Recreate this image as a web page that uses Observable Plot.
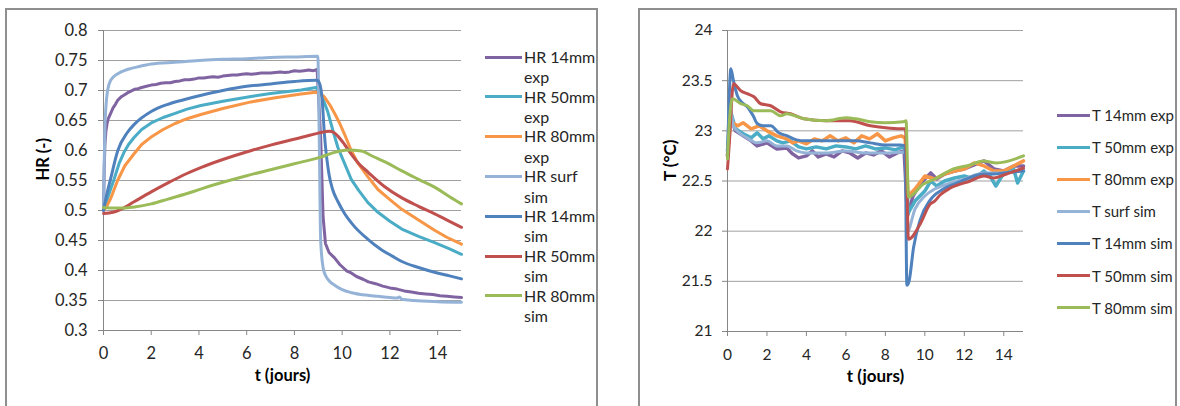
<!DOCTYPE html>
<html><head><meta charset="utf-8">
<script src="https://cdn.jsdelivr.net/npm/d3@7"></script>
<script src="https://cdn.jsdelivr.net/npm/@observablehq/plot@0.6"></script>
<style>
html,body{margin:0;padding:0;background:#fff;}
body{width:1180px;height:406px;position:relative;overflow:hidden;font-family:Lato,sans-serif;color:#262626;}
.panel{position:absolute;border:2px solid #8f8f8f;box-sizing:border-box;}
#hrPanel{left:5px;top:8px;width:593px;height:420px;}
#tPanel{left:638px;top:8px;width:539px;height:420px;}
.plot{position:absolute;top:0;}
#hrPlot{left:0;}
#tPlot{left:630px;}
.legend{position:absolute;}
.item{position:absolute;left:0;display:flex;align-items:flex-start;white-space:normal;}
.sw{flex:none;height:3px;}
</style></head><body>
<div class="panel" id="hrPanel"></div>
<div class="panel" id="tPanel"></div>
<div class="plot" id="hrPlot"></div>
<div class="plot" id="tPlot"></div>
<div class="legend" id="hrLegend"></div>
<div class="legend" id="tLegend"></div>
<script>
// ---------- data ----------
const xTicks = [0, 2, 4, 6, 8, 10, 12, 14];
const hrTicks = [0.3, 0.35, 0.4, 0.45, 0.5, 0.55, 0.6, 0.65, 0.7, 0.75, 0.8];
const tTicks = [21, 21.5, 22, 22.5, 23, 23.5, 24];
const hrNames = ["HR 14mm exp", "HR 50mm exp", "HR 80mm exp", "HR surf sim", "HR 14mm sim", "HR 50mm sim", "HR 80mm sim"];
const tNames = ["T 14mm exp", "T 50mm exp", "T 80mm exp", "T surf sim", "T 14mm sim", "T 50mm sim", "T 80mm sim"];
const seriesColors = ["#8064A2", "#4BACC6", "#F79646", "#95B3D7", "#4F81BD", "#C0504D", "#9BBB59"];

// HR (-) vs t (jours): [t, value]
const hr14exp = [[0,0.5],[0.03,0.57],[0.06,0.61],[0.1,0.632],[0.15,0.645],[0.2,0.653],[0.3,0.662],[0.4,0.671],[0.5,0.677],[0.6,0.684],[0.73,0.689],[0.85,0.692],[1,0.696],[1.15,0.699],[1.3,0.702],[1.45,0.703],[1.6,0.705],[1.8,0.707],[2,0.709],[2.2,0.71],[2.4,0.712],[2.6,0.713],[2.8,0.713],[3,0.715],[3.2,0.716],[3.4,0.718],[3.6,0.718],[3.8,0.719],[4,0.721],[4.2,0.721],[4.4,0.722],[4.6,0.723],[4.8,0.722],[5,0.724],[5.2,0.725],[5.4,0.726],[5.6,0.726],[5.8,0.727],[6,0.728],[6.2,0.727],[6.4,0.728],[6.6,0.729],[6.8,0.729],[7,0.729],[7.2,0.73],[7.4,0.731],[7.6,0.73],[7.8,0.731],[8,0.733],[8.2,0.732],[8.4,0.733],[8.6,0.734],[8.8,0.733],[8.95,0.735],[9.1,0.62],[9.2,0.49],[9.3,0.445],[9.45,0.43],[9.68,0.421],[9.9,0.41],[10.2,0.399],[10.38,0.396],[10.6,0.39],[10.9,0.385],[11.1,0.381],[11.4,0.378],[11.7,0.374],[12,0.371],[12.3,0.369],[12.6,0.366],[12.9,0.364],[13.2,0.362],[13.5,0.361],[13.8,0.36],[14.1,0.358],[14.4,0.357],[14.7,0.356],[15,0.355]];
const hr50exp = [[0,0.5],[0.1,0.51],[0.2,0.524],[0.45,0.553],[0.65,0.578],[0.86,0.597],[1.05,0.61],[1.29,0.622],[1.6,0.635],[2,0.646],[2.5,0.655],[3,0.662],[3.5,0.669],[4.08,0.675],[5,0.682],[6.18,0.69],[7,0.695],[8.28,0.701],[8.9,0.705],[9.12,0.694],[9.4,0.664],[9.6,0.635],[9.82,0.605],[10.05,0.583],[10.38,0.552],[10.7,0.533],[11.08,0.513],[11.5,0.497],[12,0.482],[12.5,0.469],[13.2,0.457],[13.9,0.446],[14.5,0.436],[15,0.427]];
const hr80exp = [[0,0.5],[0.15,0.508],[0.3,0.52],[0.59,0.55],[0.9,0.575],[1.29,0.595],[1.6,0.61],[1.98,0.622],[2.5,0.635],[3,0.645],[3.5,0.653],[4.08,0.66],[5,0.67],[6.18,0.681],[7.2,0.688],[8.28,0.694],[8.9,0.697],[9.1,0.695],[9.26,0.689],[9.5,0.675],[9.68,0.662],[9.9,0.645],[10.1,0.627],[10.38,0.6],[10.66,0.579],[11.08,0.556],[11.5,0.535],[12,0.518],[12.5,0.502],[13.2,0.484],[13.87,0.467],[14.4,0.455],[15,0.444]];
const hrSurfSim = [[0,0.5],[0.03,0.58],[0.06,0.64],[0.1,0.672],[0.17,0.7],[0.3,0.717],[0.6,0.728],[1,0.735],[1.5,0.74],[2,0.744],[3,0.747],[4,0.75],[5,0.752],[6,0.753],[7,0.755],[8,0.756],[8.98,0.757],[9.04,0.62],[9.1,0.45],[9.2,0.405],[9.3,0.392],[9.45,0.383],[9.7,0.375],[10,0.368],[10.4,0.363],[11,0.359],[11.5,0.357],[12,0.355],[12.3,0.354],[12.4,0.356],[12.5,0.352],[13,0.35],[14,0.348],[15,0.347]];
const hr14sim = [[0,0.5],[0.1,0.52],[0.3,0.553],[0.6,0.6],[1,0.63],[1.3,0.644],[2,0.665],[2.7,0.677],[3.4,0.685],[4.1,0.692],[5,0.7],[6,0.707],[7,0.711],[8,0.715],[8.95,0.717],[9.05,0.712],[9.15,0.69],[9.26,0.625],[9.45,0.56],[9.6,0.535],[9.82,0.515],[10.1,0.495],[10.5,0.474],[11.08,0.452],[11.6,0.436],[12.1,0.424],[12.5,0.415],[13.2,0.405],[13.87,0.397],[14.5,0.391],[15,0.386]];
const hr50sim = [[0,0.495],[0.4,0.497],[0.73,0.502],[1.3,0.515],[2,0.531],[2.7,0.546],[3.4,0.56],[4.1,0.572],[5,0.585],[6.2,0.6],[7,0.609],[8.4,0.623],[9,0.629],[9.47,0.632],[9.65,0.63],[9.82,0.624],[10.1,0.61],[10.38,0.594],[10.7,0.578],[11.08,0.564],[11.77,0.54],[12.5,0.521],[13.2,0.507],[13.9,0.494],[14.5,0.482],[15,0.472]];
const hr80sim = [[0,0.505],[0.5,0.504],[1.3,0.506],[2,0.511],[2.7,0.519],[3.4,0.527],[4.1,0.536],[5,0.547],[6,0.558],[7,0.568],[8,0.578],[9.1,0.589],[9.6,0.596],[10.24,0.601],[10.8,0.599],[11.3,0.59],[11.9,0.579],[12.5,0.566],[13.2,0.552],[13.87,0.539],[14.5,0.523],[15,0.511]];

// T (°C) vs t (jours): [t, value]
const t14exp = [[0,22.75],[0.15,23.15],[0.4,23.0],[0.8,22.95],[1.2,22.9],[1.5,22.85],[2,22.88],[2.5,22.82],[3,22.83],[3.3,22.77],[3.6,22.73],[4,22.75],[4.3,22.8],[4.6,22.74],[5,22.77],[5.4,22.74],[5.8,22.8],[6.2,22.78],[6.6,22.73],[7,22.78],[7.4,22.76],[7.8,22.8],[8.2,22.74],[8.6,22.78],[8.95,22.8],[9.12,22.15],[9.4,22.35],[9.7,22.45],[10,22.52],[10.3,22.58],[10.6,22.52],[11,22.57],[11.5,22.6],[12,22.62],[12.5,22.66],[13,22.7],[13.5,22.62],[14,22.6],[14.5,22.65],[15,22.65]];
const t50exp = [[0,22.8],[0.15,23.2],[0.4,23.02],[0.8,22.97],[1.2,22.93],[1.5,22.98],[1.8,22.92],[2.1,22.95],[2.5,22.9],[2.8,22.88],[3.2,22.9],[3.6,22.84],[4,22.82],[4.5,22.84],[5,22.82],[5.5,22.85],[6,22.84],[6.5,22.82],[7,22.85],[7.5,22.82],[8,22.83],[8.5,22.81],[8.9,22.84],[9.05,22.8],[9.15,22.18],[9.5,22.3],[10,22.4],[10.3,22.5],[10.6,22.45],[11,22.5],[11.5,22.53],[12,22.55],[12.5,22.52],[13,22.6],[13.3,22.55],[13.6,22.45],[14,22.58],[14.5,22.62],[14.7,22.48],[15,22.6]];
const t80exp = [[0,22.75],[0.15,23.1],[0.5,23.05],[0.8,23.08],[1.2,23.02],[1.6,23.05],[2,23.0],[2.5,22.95],[3,22.92],[3.3,22.88],[3.6,22.9],[4,22.87],[4.4,22.92],[4.8,22.9],[5.2,22.95],[5.6,22.9],[6,22.93],[6.4,22.88],[6.8,22.95],[7.2,22.92],[7.6,22.97],[8,22.9],[8.4,22.93],[8.8,22.95],[9.0,22.93],[9.15,22.35],[9.5,22.42],[10,22.55],[10.5,22.52],[11,22.57],[11.5,22.6],[12,22.62],[12.5,22.68],[13,22.65],[13.5,22.6],[14,22.6],[14.5,22.65],[15,22.7]];
const tSurfSim = [[0,22.8],[0.12,23.25],[0.3,23.05],[0.6,22.98],[1,22.93],[1.5,22.88],[2,22.9],[2.5,22.85],[3,22.85],[3.5,22.8],[4,22.78],[5,22.78],[6,22.8],[7,22.78],[8,22.78],[9.0,22.79],[9.12,22.0],[9.5,22.22],[10,22.35],[10.5,22.42],[11,22.46],[12,22.52],[13,22.58],[14,22.58],[15,22.62]];
const t14sim = [[0,22.75],[0.08,23.3],[0.17,23.62],[0.3,23.5],[0.5,23.35],[0.75,23.28],[1.0,23.24],[1.3,23.15],[1.52,23.07],[1.8,23.05],[2.19,23.05],[2.6,22.98],[3.03,22.95],[3.5,22.91],[3.87,22.9],[4.5,22.9],[5.56,22.9],[6.5,22.9],[7.24,22.88],[8,22.86],[8.75,22.86],[9.0,22.85],[9.09,21.46],[9.2,21.5],[9.43,21.84],[9.76,22.11],[10.27,22.31],[10.94,22.42],[11.5,22.47],[12,22.51],[12.5,22.55],[13,22.57],[13.5,22.57],[14,22.58],[15,22.6]];
const t50sim = [[0,22.62],[0.1,22.9],[0.3,23.47],[0.67,23.4],[1.0,23.37],[1.34,23.34],[1.68,23.27],[2.19,23.25],[2.69,23.19],[3.2,23.17],[3.87,23.12],[5,23.1],[5.56,23.1],[6.2,23.1],[7.24,23.05],[8,23.03],[8.75,23.02],[9.02,23.02],[9.17,21.92],[9.76,22.07],[10.27,22.27],[10.5,22.3],[10.77,22.36],[11.3,22.43],[12.3,22.5],[13,22.55],[13.5,22.53],[14,22.56],[15,22.63]];
const t80sim = [[0,22.72],[0.1,23.1],[0.25,23.32],[0.67,23.27],[1.0,23.25],[1.34,23.2],[2.19,23.2],[2.69,23.15],[3.0,23.17],[3.87,23.12],[5,23.1],[6,23.13],[6.5,23.12],[7.24,23.09],[8,23.08],[8.9,23.09],[9.05,23.1],[9.17,22.34],[9.93,22.47],[10.5,22.52],[11.45,22.62],[12.3,22.66],[12.96,22.7],[13.64,22.68],[15,22.75]];

const hrSeries = [hr14exp, hr50exp, hr80exp, hrSurfSim, hr14sim, hr50sim, hr80sim];
const tSeries = [t14exp, t50exp, t80exp, tSurfSim, t14sim, t50sim, t80sim];
const isExp = [true, true, true, false, false, false, false];

// ---------- chart ----------
const axisColor = "#868686", gridColor = "#a0a0a0", textColor = "#262626";
const fmt = d => String(+d.toFixed(2));

function chart(o) {
  return Plot.plot({
    width: o.width, height: 406,
    marginLeft: o.ml, marginRight: o.mr, marginTop: 30, marginBottom: o.mb,
    x: {domain: [0, 15]},
    y: {domain: o.yDomain},
    style: {fontFamily: "Lato, sans-serif", fontSize: o.fs + "px", color: textColor, background: "transparent", overflow: "visible"},
    marks: [
      Plot.gridY(o.yTicks, {stroke: gridColor, strokeOpacity: 1}),
      Plot.ruleX([0], {stroke: axisColor}),
      Plot.ruleY([o.yDomain[0]], {stroke: axisColor}),
      Plot.axisY(o.yTicks, {tickSize: 5, tickPadding: o.padY, tickFormat: fmt, stroke: axisColor, strokeOpacity: 1, label: null, fontSize: o.fs}),
      Plot.axisX(xTicks, {tickSize: 5, tickPadding: 12, tickFormat: fmt, stroke: axisColor, strokeOpacity: 1, label: null, fontSize: o.fs}),
      ...o.series.map((s, i) => Plot.line(s, {
        x: d => d[0], y: d => d[1], stroke: seriesColors[i], strokeWidth: isExp[i] ? o.expW : 3,
        curve: isExp[i] ? "linear" : "monotone-x"
      })),
      Plot.text([o.xTitle], {frameAnchor: "bottom", dy: 50, fontWeight: "bold", fontSize: o.tfs, fill: "#000"}),
      Plot.text([o.yTitle], {frameAnchor: "left", dx: o.yTitleDx, rotate: -90, fontWeight: "bold", fontSize: o.tfs, fill: "#000"})
    ]
  });
}

document.getElementById("hrPlot").append(chart({
  width: 600, ml: 103, mr: 139, mb: 76, yDomain: [0.3, 0.8], yTicks: hrTicks, padY: 11,
  series: hrSeries, fs: 16.5, tfs: 16.5, expW: 3, xTitle: "t (jours)", yTitle: "HR (-)", yTitleDx: -60
}));
document.getElementById("tPlot").append(chart({
  width: 550, ml: 97, mr: 157, mb: 75, yDomain: [21, 24], yTicks: tTicks, padY: 10,
  series: tSeries, fs: 15.5, tfs: 17, expW: 3.5, xTitle: "t (jours)", yTitle: "T (°C)", yTitleDx: -57
}));

// ---------- legends ----------
function legend(id, names, o) {
  const root = d3.select("#" + id).style("left", o.left + "px").style("top", o.top + "px");
  names.forEach((name, i) => {
    const it = root.append("div").attr("class", "item").style("top", (i * o.step) + "px");
    it.append("div").attr("class", "sw")
      .style("width", o.sw + "px").style("background", seriesColors[i])
      .style("margin-top", (o.lh / 2 - 1.5) + "px");
    it.append("div").text(name)
      .style("margin-left", "2px").style("width", o.tw + "px")
      .style("font-size", o.fs + "px").style("line-height", o.lh + "px").style("color", textColor);
  });
}
legend("hrLegend", hrNames, {left: 485, top: 46.75, step: 39.8, sw: 37, tw: 78, fs: 16, lh: 20.5});
legend("tLegend", tNames, {left: 1057, top: 105, step: 32.1, sw: 33, tw: 110, fs: 15, lh: 20});
</script>
</body></html>
